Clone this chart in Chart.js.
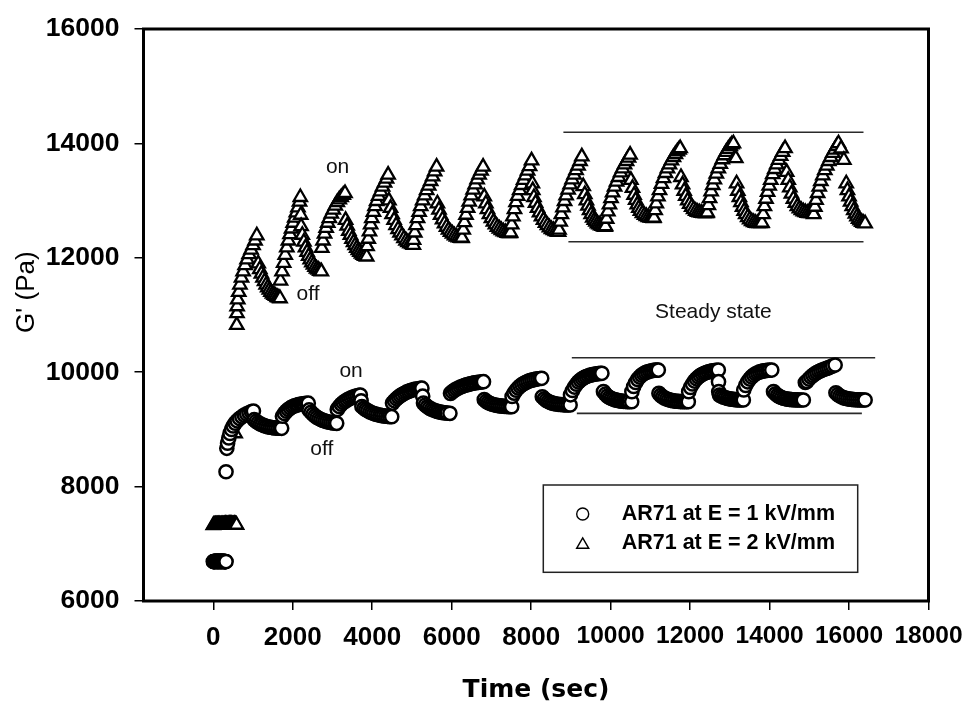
<!DOCTYPE html>
<html><head><meta charset="utf-8">
<script src="https://cdn.jsdelivr.net/npm/chart.js@4.4.0/dist/chart.umd.min.js"></script>
<style>html,body{margin:0;padding:0;background:#fff;}#wrap{width:970px;height:709px;}</style>
</head><body><div id="wrap"><canvas id="c" width="970" height="709"></canvas></div>
<script>
// ---- axis tick values ----
const xTicks = [0,2000,4000,6000,8000,10000,12000,14000,16000,18000];
const yTicks = [6000,8000,10000,12000,14000,16000];

// ---- AR71 at E = 1 kV/mm : [time (s), G' (Pa)] ----
const ar71_1kV = [
[0,6690],[10,6690],[20,6690],[30,6691],[40,6690],[50,6691],[60,6691],[70,6692],[80,6692],[90,6691],[100,6691],[110,6690],[120,6690],[130,6691],[140,6691],[150,6692],[160,6692],[170,6691],[180,6691],[190,6690],[200,6690],[210,6691],[220,6691],[230,6692],[240,6692],[250,6691],[260,6691],[270,6690],[280,6690],[290,6690],[300,6690],[310,6690],[320,6690],[320,8260],
[340,8670],[360,8760],[390,8850],[420,8930],[460,9000],[500,9060],[550,9110],[600,9150],[660,9190],[720,9220],[780,9250],[840,9270],[900,9290],[960,9310],[1010,9320],
[1030,9170],[1080,9140],[1130,9115],[1180,9095],[1230,9080],[1280,9065],[1330,9055],[1380,9045],[1430,9038],[1480,9032],[1530,9027],[1580,9024],[1630,9021],[1680,9020],[1720,9019],
[1740,9230],[1790,9280],[1840,9320],[1890,9350],[1940,9375],[1990,9395],[2040,9410],[2090,9422],[2140,9432],[2190,9440],[2240,9446],[2290,9451],[2340,9455],[2390,9458],
[2410,9340],[2460,9300],[2510,9265],[2560,9235],[2610,9210],[2660,9190],[2710,9172],[2760,9158],[2810,9146],[2860,9136],[2910,9128],[2960,9120],[3010,9114],[3060,9110],[3105,9106],
[3120,9350],[3170,9400],[3220,9440],[3270,9470],[3320,9495],[3370,9515],[3420,9535],[3470,9550],[3520,9565],[3570,9578],[3620,9588],[3670,9597],[3700,9601],
[3720,9500],[3740,9400],[3790,9370],[3840,9345],[3890,9325],[3940,9305],[3990,9290],[4040,9277],[4090,9266],[4140,9256],[4190,9248],[4240,9241],[4290,9236],[4340,9231],[4390,9227],[4440,9224],[4490,9222],
[4510,9460],[4560,9500],[4610,9535],[4660,9565],[4710,9590],[4760,9612],[4810,9632],[4860,9650],[4910,9665],[4960,9678],[5010,9689],[5060,9698],[5110,9705],[5160,9711],[5210,9716],[5250,9720],
[5270,9580],[5290,9460],[5340,9425],[5390,9395],[5440,9372],[5490,9353],[5540,9338],[5590,9325],[5640,9314],[5690,9305],[5740,9298],[5790,9292],[5840,9288],[5890,9284],[5955,9281],
[5970,9630],[6020,9660],[6070,9685],[6120,9705],[6170,9723],[6220,9740],[6270,9754],[6320,9767],[6370,9778],[6420,9788],[6470,9797],[6520,9805],[6570,9812],[6620,9818],[6670,9823],[6720,9828],[6770,9832],[6800,9834],
[6820,9520],[6870,9490],[6920,9468],[6970,9452],[7020,9440],[7070,9430],[7120,9422],[7170,9416],[7220,9411],[7270,9407],[7320,9404],[7370,9401],[7420,9399],[7470,9398],[7510,9397],
[7520,9575],[7570,9635],[7620,9685],[7670,9725],[7720,9757],[7770,9783],[7820,9805],[7870,9823],[7920,9838],[7970,9851],[8020,9862],[8070,9871],[8120,9879],[8170,9885],[8220,9890],[8265,9893],
[8280,9570],[8330,9535],[8380,9508],[8430,9488],[8480,9472],[8530,9460],[8580,9451],[8630,9444],[8680,9439],[8730,9435],[8780,9432],[8830,9430],[8880,9428],[8930,9427],[8980,9427],
[8990,9605],[9040,9680],[9090,9740],[9140,9790],[9190,9830],[9240,9862],[9290,9888],[9340,9908],[9390,9924],[9440,9937],[9490,9948],[9540,9957],[9590,9964],[9640,9970],[9690,9975],[9740,9979],[9780,9981],
[9820,9660],[9870,9615],[9920,9582],[9970,9558],[10020,9540],[10070,9526],[10120,9515],[10170,9507],[10220,9500],[10270,9495],[10320,9491],[10370,9488],[10420,9486],[10470,9485],[10530,9484],
[10535,9660],[10580,9750],[10630,9820],[10680,9875],[10730,9915],[10780,9948],[10830,9973],[10880,9992],[10930,10006],[10980,10017],[11030,10025],[11080,10031],[11130,10035],[11170,10037],[11200,10038],
[11215,9630],[11260,9595],[11310,9568],[11360,9547],[11410,9531],[11460,9519],[11510,9509],[11560,9502],[11610,9496],[11660,9492],[11710,9489],[11760,9487],[11810,9486],[11860,9485],[11910,9484],[11955,9484],
[11965,9660],[12010,9735],[12060,9795],[12110,9845],[12160,9885],[12210,9917],[12260,9943],[12310,9964],[12360,9981],[12410,9995],[12460,10006],[12510,10015],[12560,10023],[12610,10029],[12660,10034],[12710,10038],
[12715,9834],[12720,9659],[12740,9600],[12790,9580],[12840,9565],[12890,9553],[12940,9543],[12990,9535],[13040,9529],[13090,9524],[13140,9520],[13190,9517],[13240,9515],[13290,9514],[13340,9514],
[13350,9690],[13400,9770],[13450,9832],[13500,9880],[13550,9918],[13600,9948],[13650,9972],[13700,9990],[13750,10004],[13800,10015],[13850,10023],[13900,10029],[13950,10033],[14000,10036],[14055,10038],
[14100,9660],[14150,9622],[14200,9594],[14250,9573],[14300,9557],[14350,9545],[14400,9536],[14450,9529],[14500,9524],[14550,9520],[14600,9518],[14650,9516],[14700,9515],[14750,9514],[14800,9514],[14850,9514],
[14900,9820],[14940,9840],[14990,9880],[15040,9915],[15090,9945],[15140,9971],[15190,9993],[15240,10012],[15290,10028],[15340,10042],[15390,10055],[15440,10067],[15490,10080],[15540,10095],[15590,10110],[15650,10126],
[15670,9640],[15720,9608],[15770,9584],[15820,9566],[15870,9552],[15920,9542],[15970,9535],[16020,9529],[16070,9524],[16120,9521],[16170,9518],[16220,9516],[16270,9515],[16320,9514],[16370,9514],[16405,9514]
];

// ---- AR71 at E = 2 kV/mm : [time (s), G' (Pa)] ----
const ar71_2kV = [
[0,7325],[15,7327],[30,7330],[45,7330],[60,7332],[75,7331],[90,7330],[105,7332],[120,7334],[135,7335],[150,7333],[165,7331],[180,7330],[195,7332],[210,7334],[225,7335],[240,7335],[255,7334],[270,7335],[285,7337],[300,7339],[315,7340],[330,7338],[345,7336],[360,7335],[375,7337],[390,7339],[405,7340],[420,7341],[435,7341],[450,7340],[465,7338],[480,7336],[495,7335],[510,7336],[525,7338],[540,7340],[555,7338],[570,7334],[585,7330],[550,8930],
[590,10825],[595,11030],[600,11150],[615,11270],[640,11400],[670,11530],[710,11650],[750,11760],[800,11870],[850,11970],[900,12060],[950,12140],[1000,12220],[1050,12300],[1095,12390],
[1130,11900],[1170,11800],[1210,11720],[1250,11650],[1290,11590],[1330,11530],[1370,11480],[1410,11440],[1450,11400],[1490,11370],[1530,11350],[1570,11330],[1610,11310],[1650,11300],[1680,11290],
[1690,11600],[1730,11760],[1770,11910],[1810,12050],[1850,12180],[1890,12300],[1930,12410],[1970,12510],[2010,12610],[2050,12700],[2090,12790],[2130,12880],[2170,12980],[2190,13060],
[2200,12750],[2210,12550],[2240,12400],[2280,12280],[2320,12180],[2360,12100],[2400,12030],[2440,11970],[2480,11920],[2520,11880],[2560,11840],[2600,11810],[2640,11790],[2680,11770],[2720,11760],
[2730,12170],[2760,12300],[2800,12420],[2840,12520],[2880,12610],[2920,12690],[2970,12770],[3020,12840],[3070,12910],[3120,12970],[3170,13020],[3220,13060],[3270,13100],[3315,13130],
[3330,12660],[3370,12560],[3410,12470],[3450,12400],[3490,12330],[3530,12270],[3570,12220],[3610,12170],[3650,12130],[3690,12100],[3730,12070],[3770,12050],[3810,12030],[3860,12020],
[3870,12200],[3900,12330],[3930,12460],[3960,12580],[3990,12690],[4030,12800],[4070,12900],[4110,12990],[4160,13080],[4210,13160],[4260,13240],[4310,13310],[4360,13380],[4400,13450],
[4420,13000],[4460,12870],[4500,12760],[4550,12660],[4600,12570],[4650,12500],[4700,12440],[4750,12390],[4800,12340],[4850,12300],[4900,12270],[4950,12250],[5000,12235],[5035,12225],
[5040,12310],[5070,12440],[5100,12570],[5140,12690],[5180,12800],[5220,12900],[5270,13000],[5320,13090],[5370,13180],[5420,13260],[5470,13340],[5520,13420],[5570,13510],[5620,13590],
[5640,12950],[5680,12840],[5720,12750],[5770,12670],[5820,12600],[5870,12540],[5920,12490],[5970,12450],[6020,12420],[6070,12390],[6120,12370],[6170,12355],[6220,12345],[6255,12340],
[6260,12350],[6290,12490],[6320,12620],[6360,12750],[6400,12870],[6440,12980],[6490,13090],[6540,13190],[6590,13280],[6640,13370],[6690,13450],[6740,13520],[6790,13590],
[6820,13070],[6860,12950],[6900,12850],[6950,12760],[7000,12690],[7050,12630],[7100,12580],[7150,12540],[7200,12510],[7250,12480],[7300,12460],[7350,12445],[7400,12435],[7440,12430],[7470,12430],
[7480,12440],[7510,12580],[7540,12720],[7580,12850],[7620,12970],[7660,13080],[7710,13180],[7760,13270],[7810,13360],[7860,13440],[7910,13520],[7960,13600],[8010,13700],
[8030,13300],[8040,13180],[8070,13060],[8110,12960],[8160,12870],[8210,12790],[8260,12720],[8310,12660],[8360,12610],[8410,12570],[8460,12530],[8510,12500],[8560,12480],[8610,12465],[8660,12455],[8690,12450],
[8700,12490],[8730,12630],[8760,12760],[8800,12880],[8840,12990],[8880,13090],[8930,13190],[8980,13280],[9030,13370],[9080,13450],[9130,13530],[9180,13610],[9230,13690],[9275,13770],
[9310,13250],[9350,13110],[9390,13000],[9430,12910],[9470,12830],[9510,12760],[9550,12700],[9590,12660],[9630,12630],[9670,12600],[9710,12580],[9750,12565],[9790,12555],[9830,12545],[9860,12540],
[9870,12550],[9900,12680],[9930,12810],[9970,12930],[10010,13040],[10050,13140],[10100,13240],[10150,13330],[10200,13410],[10250,13490],[10300,13560],[10350,13630],[10400,13690],[10450,13750],[10490,13800],
[10510,13360],[10550,13220],[10590,13100],[10630,13010],[10670,12930],[10710,12870],[10750,12820],[10800,12780],[10850,12750],[10900,12725],[10950,12710],[11000,12700],[11040,12695],[11080,12690],
[11090,12700],[11120,12830],[11150,12950],[11190,13070],[11230,13180],[11280,13290],[11330,13390],[11380,13480],[11430,13560],[11480,13630],[11530,13700],[11580,13760],[11630,13810],[11680,13860],[11720,13890],[11750,13915],
[11770,13410],[11810,13280],[11850,13170],[11890,13080],[11940,13000],[11990,12940],[12040,12890],[12090,12850],[12140,12820],[12190,12800],[12240,12790],[12290,12785],[12340,12780],[12390,12778],[12420,12778],
[12430,12790],[12460,12920],[12490,13040],[12530,13160],[12570,13270],[12610,13370],[12660,13470],[12710,13560],[12760,13640],[12810,13720],[12860,13790],[12910,13850],[12960,13900],[13010,13950],[13050,13980],[13090,14000],
[13150,13740],[13170,13300],[13200,13170],[13240,13060],[13280,12970],[13320,12890],[13360,12820],[13400,12760],[13450,12710],[13500,12670],[13550,12640],[13600,12620],[13650,12610],[13700,12605],[13750,12603],[13800,12603],
[13810,12610],[13840,12760],[13870,12900],[13910,13030],[13950,13150],[13990,13260],[14030,13360],[14080,13460],[14130,13550],[14180,13630],[14230,13710],[14280,13780],[14330,13850],[14390,13915],
[14430,13500],[14470,13360],[14510,13230],[14550,13120],[14600,13030],[14650,12960],[14700,12900],[14750,12860],[14800,12830],[14850,12810],[14900,12795],[14950,12785],[15000,12780],[15050,12778],[15100,12778],
[15110,12760],[15140,12890],[15170,13010],[15210,13130],[15250,13240],[15290,13340],[15340,13440],[15390,13530],[15440,13610],[15490,13690],[15540,13760],[15590,13830],[15640,13890],[15690,13950],[15735,14000],
[15800,13910],[15870,13710],[15930,13300],[15960,13180],[16000,13070],[16040,12980],[16080,12900],[16120,12830],[16160,12770],[16200,12720],[16240,12680],[16280,12650],[16320,12625],[16360,12610],[16405,12600]
];

// ---- steady-state band lines: [time, G'] end points ----
const steady2kVTop    = [[8811,14194],[16364,14194]];
const steady2kVBottom = [[8937,12281],[16364,12281]];
const steady1kVTop    = [[9023,10253],[16658,10253]];
const steady1kVBottom = [[9149,9281],[16323,9281]];

// ---- text labels placed in data coordinates ----
const noteTexts = ['on','off','on','off','Steady state'];
const noteTimes = [3127,2384,3467,2729,12587];
const noteValues = [13587,11367,10021,8657,11052];

const seriesNames = ['AR71 at E = 1 kV/mm','AR71 at E = 2 kV/mm'];

const toXY = arr => arr.map(p => ({x:p[0], y:p[1]}));
const ARIAL = "'Liberation Sans', Arial, Helvetica, sans-serif";

function lineDs(pts){
  return {data:toXY(pts), showLine:true, borderColor:'#2a2a2a', borderWidth:1.6, pointRadius:0, fill:false};
}

const overlay = {
  id:'overlay',
  beforeDatasetsDraw(chart){
    const {ctx, chartArea:a} = chart;
    ctx.save();
    ctx.lineWidth = 3; ctx.strokeStyle = '#000';
    ctx.strokeRect(a.left, a.top, a.right - a.left, a.bottom - a.top);
    ctx.restore();
  },
  afterDatasetsDraw(chart){
    const {ctx, chartArea:a, scales:{x, y}} = chart;
    ctx.save();
    ctx.fillStyle = '#111';
    ctx.textAlign = 'center'; ctx.textBaseline = 'middle';
    ctx.font = "21px " + ARIAL;
    noteTexts.forEach((t,i) => ctx.fillText(t, x.getPixelForValue(noteTimes[i]), y.getPixelForValue(noteValues[i])));
    // y axis title
    ctx.save();
    ctx.translate(26.7, y.getPixelForValue(11400));
    ctx.rotate(-Math.PI/2);
    ctx.font = "26px " + ARIAL;
    ctx.fillStyle = '#000';
    ctx.fillText("G' (Pa)", 0, 0);
    ctx.restore();
    // legend box
    const bx = a.right - 385.2, by = a.bottom - 116, bw = 314.4, bh = 87.3;
    ctx.lineWidth = 1.5; ctx.strokeStyle = '#222';
    ctx.strokeRect(bx, by, bw, bh);
    const rows = [by + 29, by + 58.3];
    const styles = [{pointStyle:'circle', radius:6, rotation:0, borderWidth:1.4},
                    {pointStyle:'triangle', radius:7, rotation:0, borderWidth:1.4}];
    ctx.font = "bold 21.5px " + ARIAL;
    ctx.textAlign = 'left';
    rows.forEach((ry, i) => {
      ctx.fillStyle = '#fff'; ctx.strokeStyle = '#000'; ctx.lineWidth = 1.4;
      Chart.helpers.drawPoint(ctx, styles[i], bx + 39.4, ry + (i === 1 ? 1.5 : 0));
      ctx.fillStyle = '#000';
      ctx.fillText(seriesNames[i], bx + 78.4, ry);
    });
    ctx.restore();
  }
};

new Chart(document.getElementById('c'), {
  type: 'scatter',
  data: {
    datasets: [
      {label: seriesNames[0], data: toXY(ar71_1kV), pointStyle:'circle', pointRadius:6.6,
       pointBackgroundColor:'#fff', pointBorderColor:'#000', pointBorderWidth:2.5, showLine:false},
      {label: seriesNames[1], data: toXY(ar71_2kV), pointStyle:'triangle', pointRadius:7.7,
       pointBackgroundColor:'#fff', pointBorderColor:'#000', pointBorderWidth:2.3, showLine:false},
      lineDs(steady2kVTop), lineDs(steady2kVBottom), lineDs(steady1kVTop), lineDs(steady1kVBottom)
    ]
  },
  options: {
    responsive:false, animation:false, devicePixelRatio:1,
    layout:{padding:{left:0, right:41.5, top:29, bottom:0}},
    plugins:{legend:{display:false}, tooltip:{enabled:false}},
    scales:{
      x:{
        type:'linear', min:-1757, max:18000,
        afterBuildTicks: s => { s.ticks = xTicks.map(v => ({value:v})); },
        afterFit: s => { s.height = 108; s.paddingLeft = 0; s.paddingRight = 0; },
        border:{display:false},
        grid:{drawOnChartArea:false, drawTicks:true, tickLength:9, lineWidth:1.5, color:'#000', tickColor:'#000'},
        ticks:{color:'#000', padding:12, maxRotation:0, autoSkip:false,
               font: c => (c.tick && c.tick.value >= 10000)
                  ? {family:ARIAL, size:24.5, weight:'bold'}
                  : {family:ARIAL, size:26, weight:'bold'},
               callback: v => String(v)},
        title:{display:true, text:'Time (sec)', color:'#000',
               font:{family:"'DejaVu Sans', sans-serif", size:25, weight:'bold'}, padding:{top:0, bottom:4}}
      },
      y:{
        type:'linear', min:6000, max:16000,
        afterBuildTicks: s => { s.ticks = yTicks.map(v => ({value:v})); },
        afterFit: s => { s.width = 143.5; s.paddingTop = 0; s.paddingBottom = 0; },
        border:{display:false},
        grid:{drawOnChartArea:false, drawTicks:true, tickLength:9, lineWidth:1.5, color:'#000', tickColor:'#000'},
        ticks:{color:'#000', padding:15, font:{family:ARIAL, size:26.5, weight:'bold'}, callback: v => String(v)}
      }
    }
  },
  plugins:[overlay]
});
</script>
</body></html>
